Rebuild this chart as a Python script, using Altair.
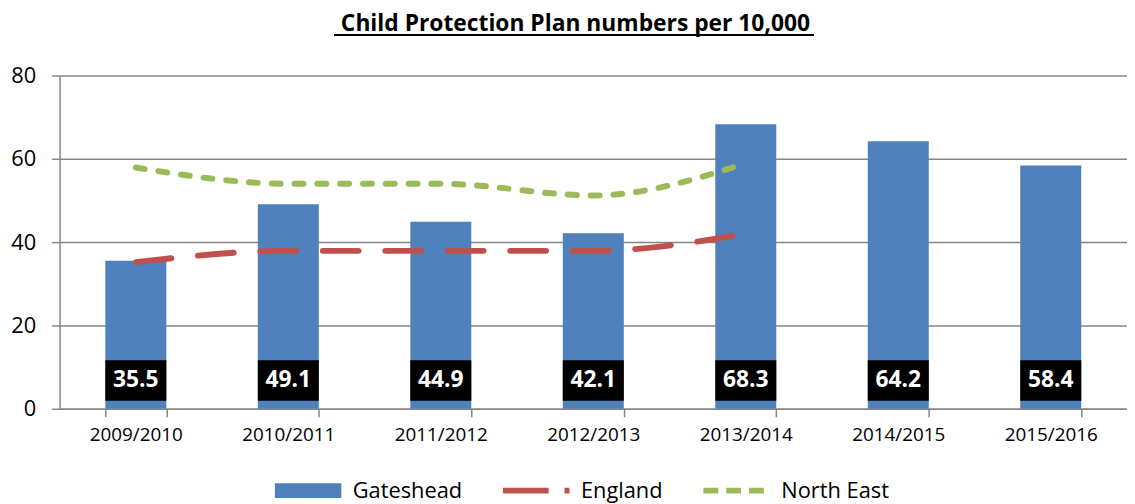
import altair as alt
import pandas as pd

categories = ["2009/2010", "2010/2011", "2011/2012", "2012/2013", "2013/2014", "2014/2015", "2015/2016"]
gateshead = [35.5, 49.1, 44.9, 42.1, 68.3, 64.2, 58.4]
line_years = ["2009/2010", "2010/2011", "2011/2012", "2012/2013", "2013/2014"]
england = [35.2, 37.9, 37.9, 37.9, 42.0]
north_east = [57.9, 54.0, 54.0, 51.2, 58.9]
y_ticks = [0, 20, 40, 60, 80]

series_names = ["Gateshead", "England", "North East"]
series_colors = ["#4F81BD", "#C0504D", "#9BBB59"]

bars_df = pd.DataFrame({"year": categories, "value": gateshead, "series": "Gateshead"})
lines_df = pd.concat([
    pd.DataFrame({"year": line_years, "value": england, "series": "England"}),
    pd.DataFrame({"year": line_years, "value": north_east, "series": "North East"}),
])

FONT = "Open Sans"
GREY = "#868686"

color_scale = alt.Scale(domain=series_names, range=series_colors)

x_enc = alt.X(
    "year:N",
    sort=categories,
    scale=alt.Scale(domain=categories, paddingInner=0.6, paddingOuter=0.3),
    axis=alt.Axis(
        title=None, labelAngle=0, tickBand="extent", labelFont=FONT, labelFontSize=19,
        labelColor="black", tickSize=8, tickColor=GREY, tickWidth=1.5,
        domainColor=GREY, domainWidth=1.5, labelPadding=9, grid=False,
    ),
)
y_enc = alt.Y(
    "value:Q",
    scale=alt.Scale(domain=[0, 80]),
    axis=alt.Axis(
        title=None, values=y_ticks, labelFont=FONT, labelFontSize=22, labelColor="black",
        tickSize=8, tickColor=GREY, tickWidth=1.5, labelPadding=16,
        grid=True, gridColor=GREY, gridWidth=1.5, domainColor=GREY, domainWidth=1.5,
    ),
)

legend = alt.Legend(
    title=None,
    orient="none",
    direction="horizontal",
    legendX=216,
    legendY=404.5,
    clipHeight=28,
    symbolType="M-33.5,0H33.5",
    symbolSize=4,
    symbolOffset=23.5,
    symbolFillColor="transparent",
    symbolOpacity=1,
    symbolStrokeColor={"expr": "scale('color', datum.value)"},
    symbolStrokeWidth={"expr": "datum.value === 'Gateshead' ? 15 : 6"},
    symbolDash={"expr": "datum.value === 'England' ? [46, 16] : (datum.value === 'North East' ? [15, 8] : [1, 0])"},
    labelFont=FONT,
    labelFontSize=22,
    labelColor="black",
    labelOffset=34,
    columnPadding=40,
    padding=0,
)

bars = alt.Chart(bars_df).mark_bar().encode(
    x=x_enc,
    y=y_enc,
    color=alt.Color("series:N", scale=color_scale, legend=legend),
)

lines = alt.Chart(lines_df).mark_line(strokeWidth=6, interpolate="monotone", strokeCap="round").encode(
    x=x_enc,
    y=y_enc,
    color=alt.Color("series:N", scale=color_scale, legend=legend),
    strokeDash=alt.StrokeDash(
        "series:N",
        scale=alt.Scale(domain=["England", "North East"], range=[[36, 27], [9, 14]]),
        legend=None,
    ),
)

label_boxes = alt.Chart(bars_df).mark_bar(color="black").encode(
    x=x_enc,
    y=alt.value(287),
    y2=alt.value(328),
)

label_text = alt.Chart(bars_df).mark_text(
    color="white", font=FONT, fontSize=23, fontWeight="bold", baseline="middle", dy=0
).encode(
    x=x_enc,
    y=alt.value(307.5),
    text=alt.Text("value:Q", format=".1f"),
)

underline = alt.Chart(bars_df).mark_rule(color="black", strokeWidth=1.5).encode(
    x=alt.value(277), x2=alt.value(760), y=alt.value(-41)
)

chart = alt.layer(bars, lines, label_boxes, label_text, underline).properties(
    width=1076,
    height=336,
    padding={"left": 52, "top": 66, "right": 0, "bottom": 94},
    autosize=alt.AutoSizeParams(type="none"),
    title=alt.TitleParams(
        "Child Protection Plan numbers per 10,000",
        font=FONT, fontSize=23, fontWeight="bold", color="black",
        anchor="middle", offset=-2, dx=-18,
    ),
).configure_view(stroke=None)

chart.save("out.html", embed_options={"renderer": "svg", "actions": False})
